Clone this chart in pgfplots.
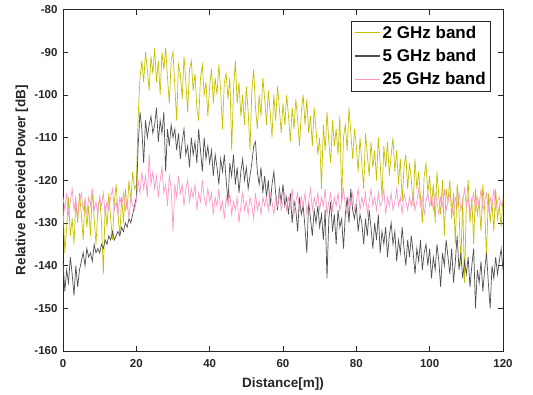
\documentclass[border=0pt]{standalone}
\usepackage{fontspec}
\setmainfont{Liberation Sans}
\usepackage{pgfplots}
\usepackage{pgfplotstable}
\pgfplotsset{compat=1.18}
\definecolor{cY}{RGB}{196,192,0}
\definecolor{cB}{RGB}{80,80,80}
\definecolor{cP}{RGB}{255,150,200}
\definecolor{axc}{RGB}{38,38,38}
\pgfplotstableread{
x a b c
0 -126 -139 -124
0.5 -137 -146 -127
1 -131 -141 -123
1.5 -124 -144 -128
2 -133 -138 -125
2.5 -129 -142 -122
3 -135 -147 -127
3.5 -125 -140 -124
4 -130 -145 -129
4.5 -123 -141 -125
5 -128 -139 -123
5.5 -134 -137 -127
6 -124 -140 -125
6.5 -131 -136 -128
7 -126 -138 -124
7.5 -133 -137 -126
8 -122 -139 -122
8.5 -129 -135 -127
9 -135 -137 -125
9.5 -127 -136 -128
10 -124 -137 -124
10.5 -130 -135 -126
11 -142 -136 -123
11.5 -126 -134 -128
12 -131 -135 -125
12.5 -123 -133 -127
13 -129 -134 -124
13.5 -134 -132 -122
14 -125 -134 -127
14.5 -121 -133 -125
15 -128 -132 -128
15.5 -133 -133 -124
16 -124 -131 -126
16.5 -130 -132 -123
17 -122 -130 -127
17.5 -127 -131 -125
18 -120 -129 -129
18.5 -125 -130 -124
19 -118 -128 -126
19.5 -122 -126 -127
20 -121 -124 -125
20.5 -105 -112 -120
21 -96 -104 -123
21.5 -92 -108 -118
22 -97 -116 -122
22.5 -90 -106 -119
23 -94 -110 -124
23.5 -99 -107 -114
24 -91 -105 -121
24.5 -95 -109 -118
25 -89 -107 -122
25.5 -97 -103 -119
26 -92 -111 -124
26.5 -100 -106 -120
27 -90 -109 -117
27.5 -94 -104 -123
28 -89 -118 -121
28.5 -96 -108 -126
29 -102 -112 -119
29.5 -92 -107 -122
30 -90 -110 -132
30.5 -98 -108 -121
31 -106 -113 -124
31.5 -93 -109 -119
32 -95 -115 -123
32.5 -101 -111 -121
33 -91 -108 -126
33.5 -97 -114 -122
34 -104 -112 -120
34.5 -94 -117 -125
35 -92 -110 -122
35.5 -99 -114 -124
36 -95 -111 -121
36.5 -103 -116 -127
37 -106 -108 -123
37.5 -96 -113 -125
38 -93 -118 -120
38.5 -100 -110 -124
39 -97 -115 -126
39.5 -105 -112 -122
40 -98 -116 -125
40.5 -94 -113 -123
41 -102 -119 -128
41.5 -96 -114 -124
42 -100 -117 -126
42.5 -93 -121 -122
43 -99 -115 -127
43.5 -108 -118 -125
44 -97 -114 -129
44.5 -95 -120 -124
45 -101 -125 -126
45.5 -96 -116 -123
46 -113 -119 -128
46.5 -99 -114 -125
47 -92 -121 -127
47.5 -102 -117 -124
48 -97 -123 -130
48.5 -105 -118 -126
49 -100 -115 -123
49.5 -107 -120 -127
50 -98 -117 -125
50.5 -104 -122 -128
51 -113 -119 -124
51.5 -99 -116 -126
52 -94 -112 -129
52.5 -103 -111 -123
53 -108 -118 -127
53.5 -100 -121 -125
54 -105 -117 -128
54.5 -96 -123 -124
55 -101 -119 -126
55.5 -107 -124 -124
56 -99 -120 -127
56.5 -104 -126 -123
57 -110 -121 -125
57.5 -100 -118 -128
58 -106 -123 -124
58.5 -98 -127 -126
59 -103 -122 -123
59.5 -109 -125 -127
60 -102 -121 -125
60.5 -107 -126 -123
61 -100 -124 -127
61.5 -105 -128 -124
62 -111 -123 -126
62.5 -103 -130 -122
63 -108 -125 -128
63.5 -101 -127 -125
64 -106 -132 -123
64.5 -112 -124 -127
65 -104 -128 -124
65.5 -100 -126 -126
66 -107 -131 -123
66.5 -101 -137 -128
67 -109 -125 -125
67.5 -105 -129 -122
68 -112 -133 -127
68.5 -103 -127 -124
69 -108 -130 -126
69.5 -114 -126 -123
70 -110 -131 -127
70.5 -122 -128 -124
71 -107 -134 -126
71.5 -113 -127 -122
72 -104 -143 -128
72.5 -111 -129 -125
73 -116 -125 -123
73.5 -106 -132 -127
74 -112 -128 -124
74.5 -108 -135 -126
75 -114 -127 -123
75.5 -105 -131 -127
76 -125 -129 -125
76.5 -110 -136 -122
77 -107 -128 -126
77.5 -113 -124 -128
78 -103 -130 -124
78.5 -109 -122 -126
79 -115 -127 -123
79.5 -108 -129 -127
80 -112 -126 -125
80.5 -118 -132 -122
81 -110 -128 -127
81.5 -116 -130 -124
82 -122 -135 -126
82.5 -109 -129 -123
83 -114 -133 -128
83.5 -119 -127 -125
84 -111 -131 -122
84.5 -117 -136 -126
85 -113 -130 -124
85.5 -120 -134 -127
86 -110 -128 -123
86.5 -116 -137 -126
87 -124 -132 -125
87.5 -112 -135 -122
88 -117 -131 -128
88.5 -111 -138 -124
89 -119 -133 -126
89.5 -114 -130 -123
90 -110 -135 -127
90.5 -118 -132 -125
91 -113 -139 -122
91.5 -121 -134 -126
92 -115 -137 -124
92.5 -125 -131 -128
93 -117 -136 -123
93.5 -114 -140 -125
94 -122 -134 -127
94.5 -116 -138 -124
95 -120 -133 -126
95.5 -126 -137 -123
96 -115 -142 -127
96.5 -122 -136 -125
97 -118 -139 -122
97.5 -124 -134 -126
98 -130 -141 -124
98.5 -119 -137 -128
99 -116 -135 -125
99.5 -123 -140 -123
100 -119 -136 -126
100.5 -126 -143 -124
101 -121 -138 -127
101.5 -130 -141 -123
102 -118 -135 -125
102.5 -124 -139 -128
103 -128 -145 -124
103.5 -120 -137 -126
104 -133 -140 -122
104.5 -122 -134 -127
105 -125 -138 -125
105.5 -120 -142 -123
106 -129 -136 -126
106.5 -123 -144 -128
107 -135 -139 -124
107.5 -121 -133 -126
108 -127 -141 -123
108.5 -140 -137 -127
109 -124 -143 -125
109.5 -144 -139 -122
110 -126 -142 -126
110.5 -120 -138 -124
111 -130 -145 -128
111.5 -124 -140 -125
112 -135 -136 -123
112.5 -122 -150 -127
113 -128 -141 -124
113.5 -125 -144 -126
114 -132 -139 -122
114.5 -121 -146 -127
115 -127 -141 -125
115.5 -138 -137 -123
116 -123 -144 -127
116.5 -130 -150 -124
117 -125 -140 -126
117.5 -132 -143 -122
118 -122 -138 -127
118.5 -129 -142 -125
119 -126 -139 -124
119.5 -131 -136 -126
120 -124 -141 -125
}\data
\begin{document}
\begin{tikzpicture}
\begin{axis}[
  scale only axis, width=440pt, height=341.5pt,
  xmin=0, xmax=120, ymin=-160, ymax=-80,
  xtick={0,20,...,120}, ytick={-160,-150,...,-80},
  axis line style={axc, line width=0.6pt},
  tick style={axc, line width=0.6pt}, major tick length=5pt,
  tick align=inside,
  /pgf/number format/assume math mode=true,
  ticklabel style={font=\fontsize{11.5}{13}\selectfont\bfseries, text=axc},
  xticklabel style={yshift=-5pt},
  yticklabel style={xshift=-2pt},
  xlabel={Distance[m])}, ylabel={Relative Received Power [dB]},
  label style={font=\fontsize{13.5}{16}\selectfont\bfseries, text=axc},
  xlabel style={at={(axis description cs:0.5,-0.0966)}, anchor=center},
  ylabel style={at={(axis description cs:-0.0932,0.5)}, anchor=center},
  legend style={at={(1,1)}, anchor=north east, xshift=-12pt, yshift=-11pt,
    draw=axc, line width=0.6pt, font=\fontsize{17}{20}\selectfont\bfseries,
    cells={anchor=west}, inner sep=3pt, row sep=5.5pt},
  legend image code/.code={\draw[#1, line width=1.3pt] (0pt,0pt) -- (25pt,0pt);},
]
\addplot[cY, line width=0.7pt] table[x=x, y=a]{\data};
\addplot[cB, line width=0.7pt] table[x=x, y=b]{\data};
\addplot[cP, line width=0.7pt] table[x=x, y=c]{\data};
\legend{2 GHz band, 5 GHz band, 25 GHz band}
\end{axis}
\pgfresetboundingbox
\path[use as bounding box] (-63pt,-44pt) rectangle (470pt,351pt);
\end{tikzpicture}
\end{document}
